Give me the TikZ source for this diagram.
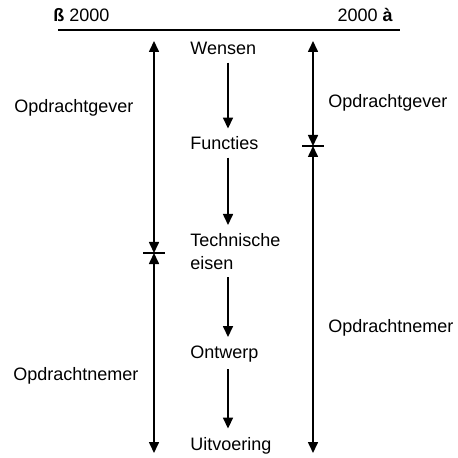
\documentclass[tikz,border=0pt]{standalone}
\usepackage{fontspec}
\setmainfont{Liberation Sans}
\usetikzlibrary{arrows.meta}
\tikzset{tip/.style={-{Triangle[length=5.5pt,width=5pt]}}}

\begin{document}
\begin{tikzpicture}[x=0.5pt,y=-0.5pt,
  lbl/.style={anchor=base west, inner sep=0pt, font=\fontsize{9}{11.5}\selectfont},
  flow/.style={line width=0.8pt, tip, shorten <=3.5pt, shorten >=4pt},
  span/.style={line width=0.8pt, {Triangle[length=5.5pt,width=5pt]}-{Triangle[length=5.5pt,width=5pt]}}]
\useasboundingbox (0,0) rectangle (457,458);
% time line
\coordinate (tl) at (58,30);
\coordinate (tr) at (400,30);
\draw[line width=0.6pt] (tl) -- (tr);
\draw (53,22) node[lbl] (past) {\textbf{ß} 2000};
\draw (393,22) node[lbl, anchor=base east] (future) {2000 \textbf{à}};
% stages
\coordinate (axis) at (228,0);
\draw (190,55) node[lbl] (wensen) {Wensen};
\draw (190,150) node[lbl] (functies) {Functies};
\draw (190,233) node[lbl, anchor=north west, align=left] (tech) {Technische\\eisen};
\draw (190,358) node[lbl] (ontwerp) {Ontwerp};
\draw (190,450) node[lbl] (uitvoering) {Uitvoering};
\draw[flow] (wensen.south -| axis) -- (functies.north -| axis);
\draw[flow] (functies.south -| axis) -- (tech.north -| axis);
\draw[flow] (tech.south -| axis) -- (ontwerp.north -| axis);
\draw[flow] (ontwerp.south -| axis) -- (uitvoering.north -| axis);
% left: before 2000
\coordinate (ltop) at (154,41);
\coordinate (lmid) at (154,253);
\coordinate (lbot) at (154,453);
\draw[span] (ltop) -- (lmid);
\draw[span] (lmid) -- (lbot);
\draw[line width=0.6pt] ([xshift=-5.5pt]lmid) -- ([xshift=5.5pt]lmid);
\draw (14,113) node[lbl] (lgever) {Opdrachtgever};
\draw (13,380) node[lbl] (lnemer) {Opdrachtnemer};
% right: after 2000
\coordinate (rtop) at (313,41);
\coordinate (rmid) at (313,146);
\coordinate (rbot) at (313,453);
\draw[span] (rtop) -- (rmid);
\draw[span] (rmid) -- (rbot);
\draw[line width=0.6pt] ([xshift=-5.5pt]rmid) -- ([xshift=5.5pt]rmid);
\draw (328,108) node[lbl] (rgever) {Opdrachtgever};
\draw (328,332) node[lbl] (rnemer) {Opdrachtnemer};
\end{tikzpicture}
\end{document}
